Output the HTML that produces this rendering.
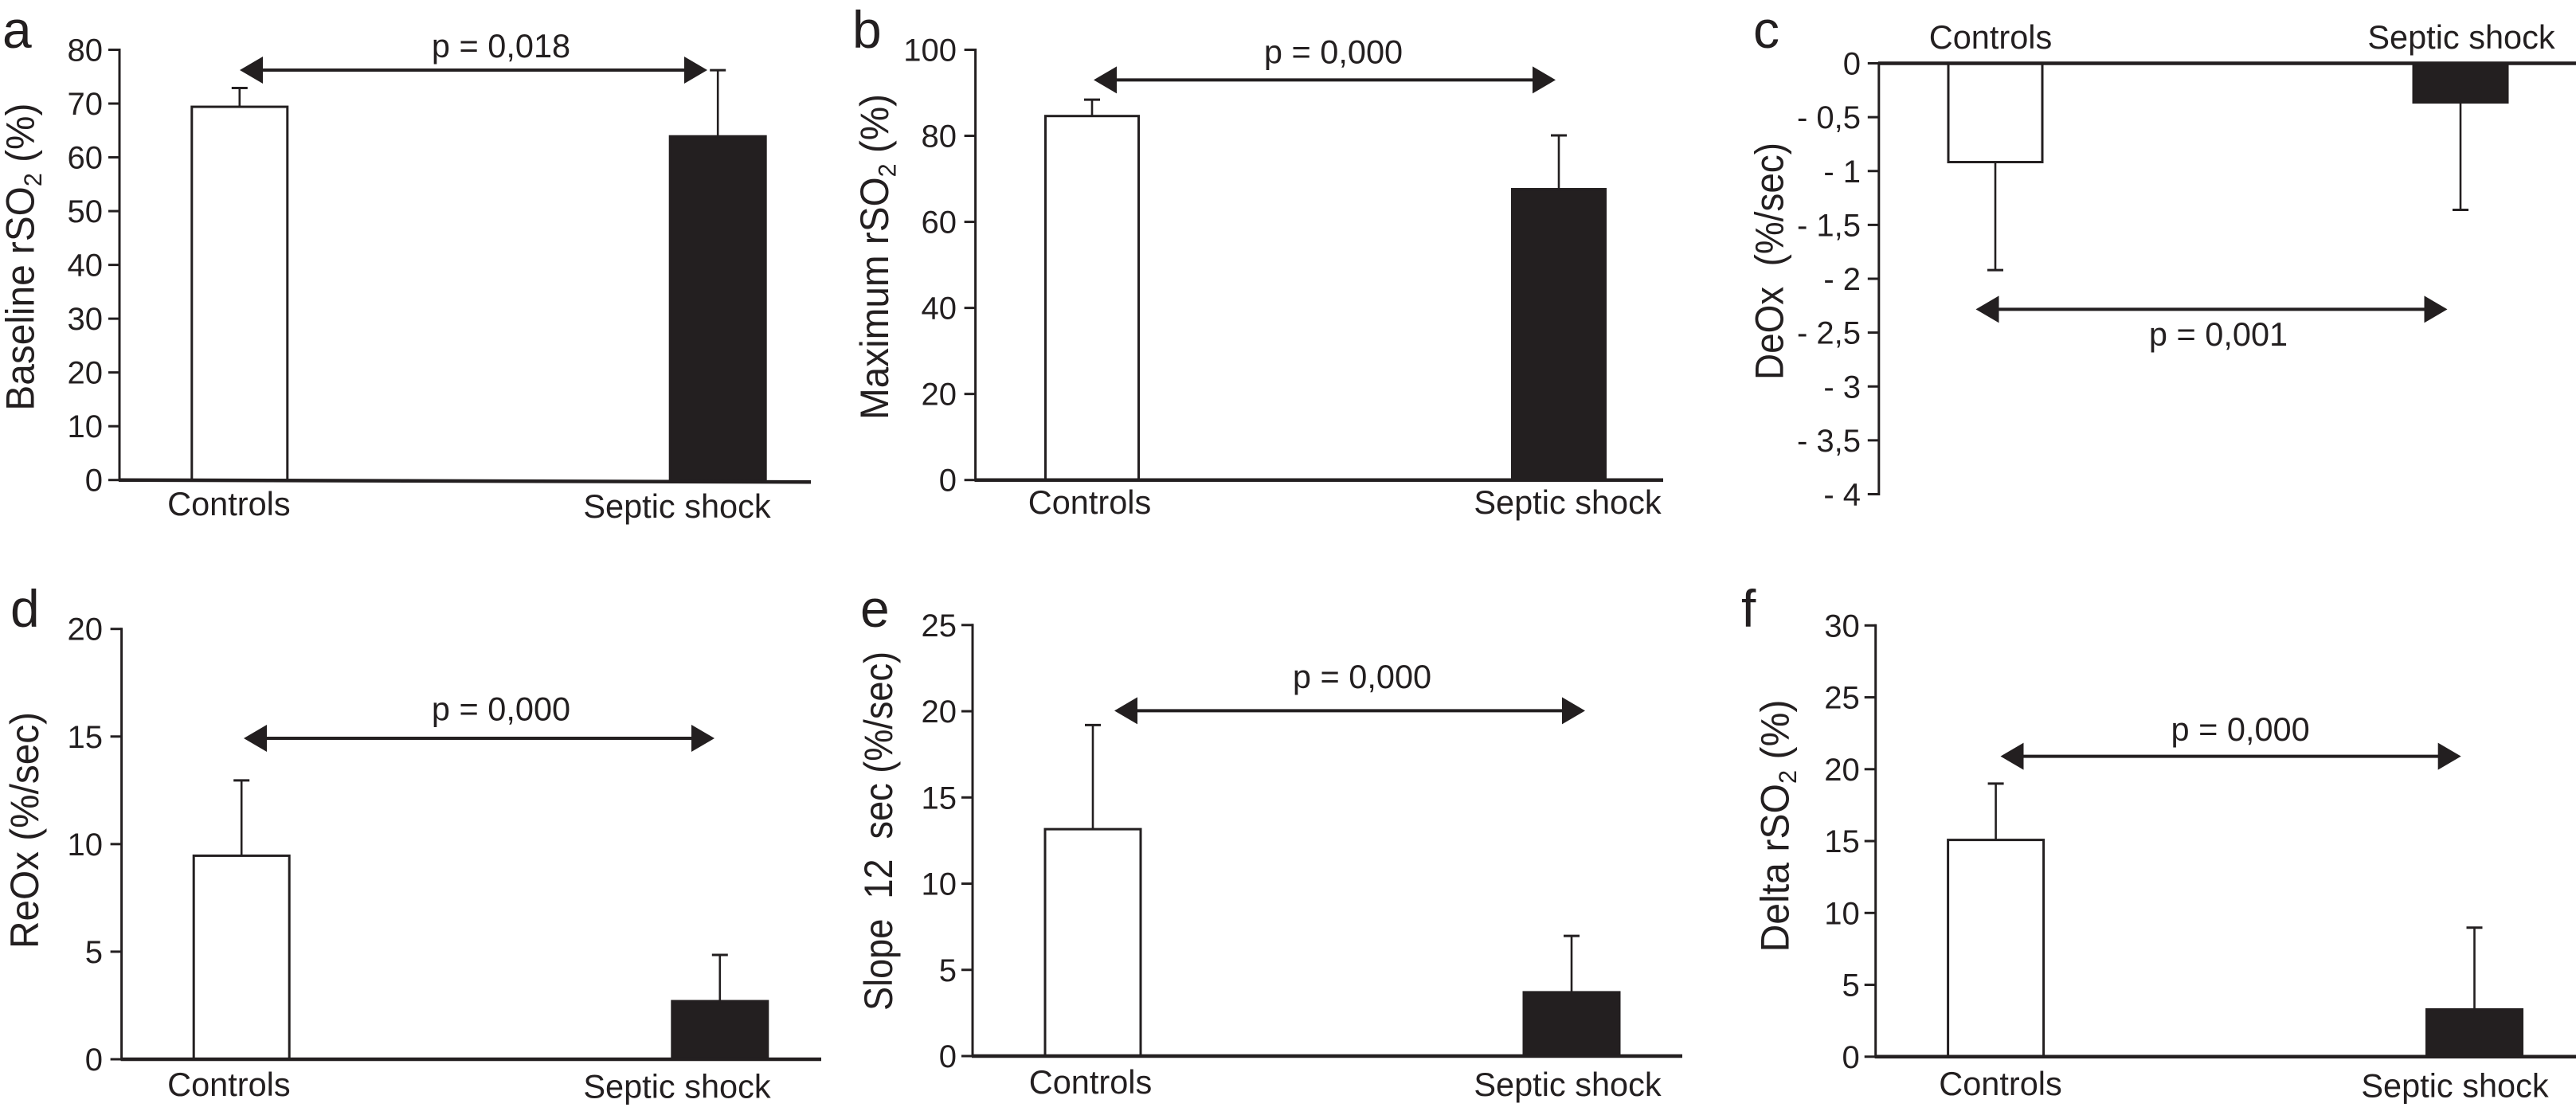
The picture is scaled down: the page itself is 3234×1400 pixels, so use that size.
<!DOCTYPE html>
<html lang="en">
<head>
<meta charset="utf-8">
<title>Septic shock vs controls rSO2 panels</title>
<style>
html,body{margin:0;padding:0;background:#fff;width:3234px;height:1400px;overflow:hidden}
svg{display:block}
text{font-family:"Liberation Sans",Arial,sans-serif;fill:#231f20;white-space:pre}
</style>
</head>
<body>
<svg id="figure" xmlns="http://www.w3.org/2000/svg" width="3234" height="1400" viewBox="0 0 3234 1400">
<rect x="0" y="0" width="3234" height="1400" fill="#fff"/>
</svg>
<script>
const categories = ['Controls', 'Septic shock'];

const meansA = [69.4, 63.9];
const upperA = [72.9, 76.2];
const ticksA = [0, 10, 20, 30, 40, 50, 60, 70, 80];
const tickLabelsA = ['0', '10', '20', '30', '40', '50', '60', '70', '80'];

const meansB = [84.6, 67.6];
const upperB = [88.4, 80.1];
const ticksB = [0, 20, 40, 60, 80, 100];
const tickLabelsB = ['0', '20', '40', '60', '80', '100'];

const meansC = [-0.917, -0.363];
const upperC = [-1.92, -1.36];
const ticksC = [0, -0.5, -1, -1.5, -2, -2.5, -3, -3.5, -4];
const tickLabelsC = ['0', '- 0,5', '- 1', '- 1,5', '- 2', '- 2,5', '- 3', '- 3,5', '- 4'];

const meansD = [9.46, 2.7];
const upperD = [12.96, 4.85];
const ticksD = [0, 5, 10, 15, 20];
const tickLabelsD = ['0', '5', '10', '15', '20'];

const meansE = [13.16, 3.7];
const upperE = [19.2, 6.97];
const ticksE = [0, 5, 10, 15, 20, 25];
const tickLabelsE = ['0', '5', '10', '15', '20', '25'];

const meansF = [15.08, 3.29];
const upperF = [19, 8.98];
const ticksF = [0, 5, 10, 15, 20, 25, 30];
const tickLabelsF = ['0', '5', '10', '15', '20', '25', '30'];

const INK = '#231f20';
const svg = document.getElementById('figure');

function mk(tag, attrs, parent, name) {
  const el = document.createElementNS('http://www.w3.org/2000/svg', tag);
  for (const k in attrs) el.setAttribute(k, attrs[k]);
  
  
  parent.appendChild(el);
  return el;
}

function drawPanel(p) {
  const g = mk('g', {}, svg, 'panel-' + p.letter);
  const v0 = p.domain[0], v1 = p.domain[1];
  const yScale = v => p.yAt0 + (v - v0) / (v1 - v0) * (p.yAt1 - p.yAt0);
  const xScale = i => p.x0 + i * p.step;

  const letter = mk('text', {x: p.letterX, y: p.letterY, 'font-size': 66}, g, 'panel-letter');
  letter.textContent = p.letter;

  // y axis
  const axisTop = Math.min(yScale(v0), yScale(v1));
  const axisBottom = Math.max(yScale(v0), yScale(v1));
  mk('line', {x1: p.axisX, x2: p.axisX, y1: axisTop - 1.5, y2: axisBottom + 1.5, stroke: INK, 'stroke-width': 3}, g, 'y-axis');

  p.ticks.forEach((t, i) => {
    const y = yScale(t);
    mk('line', {x1: p.axisX - 14, x2: p.axisX, y1: y, y2: y, stroke: INK, 'stroke-width': 3}, g, 'y-tick');
    const lab = mk('text', {x: p.tickRight, y: y + 14, 'font-size': 40, 'text-anchor': 'end'}, g, 'y-tick-label');
    lab.textContent = p.tickLabels[i];
  });

  // y axis title (glyphs slightly taller than wide, as in the source figure)
  const title = mk('text', {
    transform: 'translate(' + p.titleX + ',' + p.titleBottom + ') rotate(-90) scale(1,1.06)',
    'font-size': 47,
    textLength: p.titleLen,
    lengthAdjust: 'spacingAndGlyphs'
  }, g, 'y-axis-title');
  const parts = p.title.split('_');
  if (parts.length === 1) {
    title.textContent = p.title;
  } else {
    title.appendChild(document.createTextNode(parts[0]));
    const sub = mk('tspan', {dy: 9, 'font-size': 30}, title, 'y-axis-title-subscript');
    sub.textContent = '2';
    const tail = mk('tspan', {dy: -9}, title, 'y-axis-title-unit');
    tail.textContent = parts[1];
  }

  // bars and error bars
  p.means.forEach((m, i) => {
    const cx = xScale(i);
    const yM = yScale(m);
    const yBase = yScale(0);
    const yU = yScale(p.upper[i]);
    const slug = i === 0 ? 'controls' : 'septic-shock';
    mk('line', {x1: cx, x2: cx, y1: yM, y2: yU, stroke: INK, 'stroke-width': 2.6}, g, 'error-bar-' + slug);
    mk('line', {x1: cx - 10, x2: cx + 10, y1: yU, y2: yU, stroke: INK, 'stroke-width': 3}, g, 'error-cap-' + slug);
    const top = Math.min(yM, yBase), h = Math.abs(yM - yBase);
    mk('rect', {
      x: cx - p.barW / 2, y: top, width: p.barW, height: h,
      fill: i === 0 ? '#fff' : INK, stroke: INK, 'stroke-width': 3
    }, g, 'bar-' + slug);
    const cat = mk('text', {x: p.catX[i], y: p.catY[i], 'font-size': 41.5, 'text-anchor': 'middle'}, g, 'category-label-' + slug);
    cat.textContent = categories[i];
  });

  // zero baseline
  mk('line', {x1: p.axisX - 1, x2: p.baseEnd, y1: yScale(0), y2: yScale(0) + (p.baseDrop || 0), stroke: INK, 'stroke-width': 4.5}, g, 'x-axis-baseline');

  // significance arrow
  const a = p.arrow;
  mk('line', {x1: a.x1 + 20, x2: a.x2 - 20, y1: a.y, y2: a.y, stroke: INK, 'stroke-width': 4}, g, 'significance-arrow-shaft');
  mk('polygon', {points: a.x1 + ',' + a.y + ' ' + (a.x1 + 29) + ',' + (a.y - 17) + ' ' + (a.x1 + 29) + ',' + (a.y + 17), fill: INK}, g, 'significance-arrow-head-left');
  mk('polygon', {points: a.x2 + ',' + a.y + ' ' + (a.x2 - 29) + ',' + (a.y - 17) + ' ' + (a.x2 - 29) + ',' + (a.y + 17), fill: INK}, g, 'significance-arrow-head-right');
  const pv = mk('text', {x: p.pX, y: p.pY, 'font-size': 41.5, 'text-anchor': 'middle'}, g, 'p-value-label');
  pv.textContent = p.pText;
}

drawPanel({
  letter: 'a', letterX: 3, letterY: 60,
  means: meansA, upper: upperA, ticks: ticksA, tickLabels: tickLabelsA,
  domain: [0, 80], yAt0: 602.7, yAt1: 62.5, axisX: 150, tickRight: 129,
  x0: 300.8, step: 600.4, barW: 120,
  catX: [287.4, 850], catY: [647, 650],
  baseEnd: 1018, baseDrop: 2.5,
  title: 'Baseline rSO_ (%)', titleX: 42.6, titleBottom: 515.6, titleLen: 386,
  arrow: {x1: 301, x2: 888, y: 88}, pText: 'p = 0,018', pX: 629, pY: 72
});

drawPanel({
  letter: 'b', letterX: 1070, letterY: 60,
  means: meansB, upper: upperB, ticks: ticksB, tickLabels: tickLabelsB,
  domain: [0, 100], yAt0: 602.7, yAt1: 62.5, axisX: 1224.6, tickRight: 1201,
  x0: 1371, step: 586, barW: 117,
  catX: [1368, 1968], catY: [645, 645],
  baseEnd: 2088,
  title: 'Maximum rSO_ (%)', titleX: 1115, titleBottom: 527, titleLen: 409,
  arrow: {x1: 1373, x2: 1953, y: 100.4}, pText: 'p = 0,000', pX: 1674, pY: 79.5
});

drawPanel({
  letter: 'c', letterX: 2201, letterY: 60,
  means: meansC, upper: upperC, ticks: ticksC, tickLabels: tickLabelsC,
  domain: [0, -4], yAt0: 79.5, yAt1: 620.5, axisX: 2358.8, tickRight: 2336,
  x0: 2505, step: 584, barW: 118,
  catX: [2499, 3090], catY: [61, 61],
  baseEnd: 3234,
  title: 'DeOx  (%/sec)', titleX: 2238.5, titleBottom: 477, titleLen: 298,
  arrow: {x1: 2480.5, x2: 3072.5, y: 388.4}, pText: 'p = 0,001', pX: 2785, pY: 434
});

drawPanel({
  letter: 'd', letterX: 13, letterY: 787,
  means: meansD, upper: upperD, ticks: ticksD, tickLabels: tickLabelsD,
  domain: [0, 20], yAt0: 1330, yAt1: 789.7, axisX: 152.6, tickRight: 129,
  x0: 303.2, step: 600.6, barW: 120,
  catX: [287.4, 850], catY: [1376, 1378.6],
  baseEnd: 1031,
  title: 'ReOx (%/sec)', titleX: 48, titleBottom: 1191, titleLen: 297,
  arrow: {x1: 306, x2: 897, y: 927}, pText: 'p = 0,000', pX: 629, pY: 904.5
});

drawPanel({
  letter: 'e', letterX: 1080, letterY: 787,
  means: meansE, upper: upperE, ticks: ticksE, tickLabels: tickLabelsE,
  domain: [0, 25], yAt0: 1326, yAt1: 784.8, axisX: 1221, tickRight: 1201,
  x0: 1372, step: 601, barW: 120,
  catX: [1369, 1968], catY: [1373, 1376],
  baseEnd: 2112,
  title: 'Slope  12  sec (%/sec)', titleX: 1120, titleBottom: 1269, titleLen: 451,
  arrow: {x1: 1399, x2: 1990, y: 892.4}, pText: 'p = 0,000', pX: 1710, pY: 864
});

drawPanel({
  letter: 'f', letterX: 2186, letterY: 787,
  means: meansF, upper: upperF, ticks: ticksF, tickLabels: tickLabelsF,
  domain: [0, 30], yAt0: 1326.8, yAt1: 785.3, axisX: 2354.7, tickRight: 2334.8,
  x0: 2505.6, step: 600.9, barW: 120,
  catX: [2511.5, 3082], catY: [1375, 1377.7],
  baseEnd: 3234,
  title: 'Delta rSO_ (%)', titleX: 2245.4, titleBottom: 1195.5, titleLen: 317,
  arrow: {x1: 2511.5, x2: 3089.7, y: 949.6}, pText: 'p = 0,000', pX: 2812.6, pY: 930
});
</script>
</body>
</html>
